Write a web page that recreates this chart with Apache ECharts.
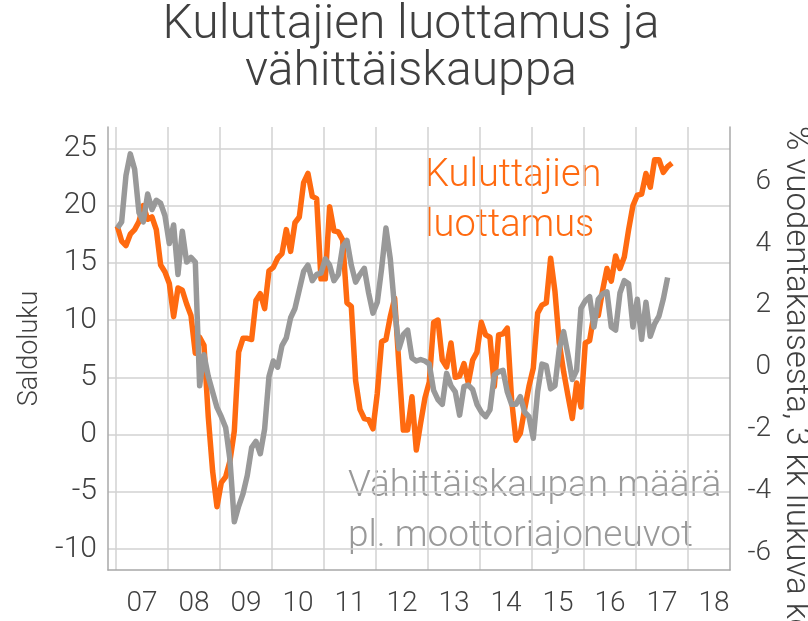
<!DOCTYPE html>
<html lang="fi">
<head>
<meta charset="utf-8">
<title>Kuluttajien luottamus ja vähittäiskauppa</title>
<script src="https://cdn.jsdelivr.net/npm/echarts@6.0.0/dist/echarts.min.js"></script>
<style>
    html, body { margin: 0; padding: 0; background: #fff; }
    #chart { width: 808px; height: 621px; }
</style>
</head>
<body>
<div id="chart"></div>
<script>
// kuukausisarjat, alkaen tammikuusta 2007
var alkuVuosi = 2007;

// Kuluttajien luottamus, saldoluku (vasen akseli)
var luottamus = [
    18.2, 16.9, 16.5, 17.5, 17.9, 18.6, 20.0, 18.8, 19.0, 17.9, 14.8, 14.2,
    13.2, 10.3, 12.8, 12.6, 11.4, 10.4, 7.1, 8.5, 7.8, 1.5, -3.2, -6.3,
    -4.2, -3.7, -2.3, 0.3, 7.2, 8.4, 8.4, 8.3, 11.7, 12.3, 11.0, 14.3,
    14.6, 15.4, 15.8, 17.9, 16.0, 18.5, 19.0, 22.0, 22.8, 20.8, 20.6, 13.6,
    13.6, 19.9, 17.8, 17.7, 17.0, 11.5, 11.2, 4.7, 2.2, 1.4, 1.3, 0.5,
    3.6, 8.1, 8.3, 10.3, 11.9, 6.0, 0.4, 0.4, 3.3, -1.35, 1.0, 3.2,
    4.6, 9.8, 10.0, 6.5, 5.9, 8.0, 5.0, 5.1, 6.2, 4.5, 6.5, 7.2,
    9.8, 8.7, 8.5, 4.2, 8.7, 8.8, 9.3, 3.0, -0.5, 0.1, 2.2, 4.2,
    5.8, 10.6, 11.3, 11.5, 15.4, 12.5, 8.0, 5.5, 3.4, 1.4, 4.5, 2.4,
    8.0, 8.2, 10.5, 10.4, 12.6, 14.5, 13.4, 15.6, 14.5, 15.5, 17.9, 20.0,
    20.9, 21.0, 22.8, 21.6, 24.0, 24.0, 22.9, 23.4, 23.7
];

// Vähittäiskaupan määrä pl. moottoriajoneuvot, % vuodentakaisesta (oikea akseli)
var vahittaiskauppa = [
    4.5, 4.7, 6.2, 6.9, 6.4, 5.0, 4.7, 5.6, 5.1, 5.4, 5.3, 4.9,
    4.0, 4.6, 3.0, 4.4, 3.4, 3.55, 3.4, -0.6, 0.4, -0.3, -0.8, -1.3,
    -1.6, -1.95, -3.0, -5.0, -4.5, -4.1, -3.5, -2.6, -2.4, -2.8, -2.0, -0.3,
    0.2, 0.0, 0.7, 0.95, 1.6, 1.9, 2.5, 3.1, 3.3, 2.8, 3.0, 3.04,
    3.5, 3.3, 2.8, 3.0, 3.9, 4.1, 3.3, 2.75, 3.0, 3.2, 2.4, 1.75,
    2.1, 3.2, 4.5, 3.5, 1.9, 0.6, 1.05, 1.2, 0.3, 0.2, 0.25, 0.2,
    0.1, -0.75, -1.05, -1.2, -0.2, -0.6, -0.8, -1.55, -0.63, -0.58, -0.72, -1.2,
    -1.45, -1.6, -1.38, -0.25, -0.15, -0.1, -0.8, -1.2, -1.2, -0.95, -1.45, -1.6,
    -2.3, -0.8, 0.1, 0.05, -0.7, -0.6, 0.6, 1.15, 0.4, -0.4, -0.1, 1.9,
    2.15, 2.28, 1.3, 2.2, 2.37, 2.44, 1.3, 1.2, 2.4, 2.8, 2.7, 1.3,
    2.2, 0.9, 2.1, 1.0, 1.4, 1.65, 2.2, 2.9
];

// vuosien tunnukset x-akselilla
var vuodet = ['07', '08', '09', '10', '11', '12', '13', '14', '15', '16', '17', '18'];

// akselien rajat
var xMin = 2006.846, xMax = 2018.808;
var saldoMin = -11.83, saldoMax = 26.86;
var prosMin = -6.56, prosMax = 7.77;

var oranssi = '#ff6a10';
var harmaa = '#999999';
var teksti = '#404040';
var fontti = 'Roboto, "Noto Sans", sans-serif';

// kuukausiarvot -> [vuosi, arvo]
function kuukausittain(arr) {
    return arr.map(function (v, i) {
        return [alkuVuosi + (i + 0.3) / 12, v];
    });
}

var chart = echarts.init(document.getElementById('chart'), null, { renderer: 'canvas' });

var option = {
    animation: false,
    backgroundColor: '#fff',
    grid: {
        left: 108, right: 78, top: 127, bottom: 51,
        containLabel: false,
        outerBoundsMode: 'none'
    },
    xAxis: [
        {
            // datan akseli, pystyviivat vuoden vaihteissa
            type: 'value',
            min: xMin, max: xMax,
            minInterval: 1, maxInterval: 1,
            axisLine: { show: true, onZero: false, lineStyle: { color: '#a8a8a8', width: 1.5 } },
            axisTick: { show: false },
            axisLabel: { show: false },
            splitLine: {
                show: true, showMinLine: false, showMaxLine: false,
                lineStyle: { color: '#d2d2d2', width: 1.5 }
            }
        },
        {
            // tunnukset vuoden keskelle
            type: 'value',
            min: xMin - 0.5, max: xMax - 0.5,
            minInterval: 1, maxInterval: 1,
            position: 'bottom',
            axisLine: { show: false, onZero: false },
            axisTick: { show: false },
            splitLine: { show: false },
            axisLabel: {
                showMinLabel: false, showMaxLabel: false,
                margin: 20,
                fontSize: 28, fontWeight: 300, fontFamily: fontti, color: teksti,
                formatter: function (v) {
                    var k = Math.round(v) - alkuVuosi;
                    return vuodet[k] || '';
                }
            }
        }
    ],
    yAxis: [
        {
            type: 'value',
            min: saldoMin, max: saldoMax,
            minInterval: 5, maxInterval: 5,
            name: 'Saldoluku',
            nameLocation: 'middle',
            nameGap: 64,
            nameTextStyle: { fontSize: 27, fontWeight: 300, fontFamily: fontti, color: teksti },
            axisLine: { show: true, onZero: false, lineStyle: { color: '#a8a8a8', width: 1.5 } },
            axisTick: { show: false },
            axisLabel: {
                showMinLabel: false, showMaxLabel: false,
                margin: 11,
                fontSize: 30, fontWeight: 300, fontFamily: fontti, color: teksti
            },
            splitLine: {
                show: true, showMinLine: false, showMaxLine: false,
                lineStyle: { color: '#d2d2d2', width: 1.5 }
            }
        },
        {
            type: 'value',
            position: 'right',
            min: prosMin, max: prosMax,
            minInterval: 2, maxInterval: 2,
            axisLine: { show: true, onZero: false, lineStyle: { color: '#a8a8a8', width: 1.5 } },
            axisTick: { show: false },
            axisLabel: {
                showMinLabel: false, showMaxLabel: false,
                margin: 41, align: 'right',
                fontSize: 28, fontWeight: 300, fontFamily: fontti, color: teksti
            },
            splitLine: { show: false }
        }
    ],
    series: [
        {
            name: 'Kuluttajien luottamus',
            type: 'line',
            xAxisIndex: 0, yAxisIndex: 0,
            data: kuukausittain(luottamus),
            showSymbol: false, symbol: 'none',
            lineStyle: { color: oranssi, width: 5.5, join: 'round' },
            z: 2
        },
        {
            name: 'Vähittäiskaupan määrä',
            type: 'line',
            xAxisIndex: 0, yAxisIndex: 1,
            data: kuukausittain(vahittaiskauppa),
            showSymbol: false, symbol: 'none',
            lineStyle: { color: harmaa, width: 5.5, join: 'round' },
            z: 3
        }
    ],
    graphic: [
        {
            type: 'text', x: 411, y: 26,
            style: { text: 'Kuluttajien luottamus ja', font: '300 48px ' + fontti, fill: teksti, align: 'center', verticalAlign: 'middle' }
        },
        {
            type: 'text', x: 411, y: 73,
            style: { text: 'vähittäiskauppa', font: '300 48px ' + fontti, fill: teksti, align: 'center', verticalAlign: 'middle' }
        },
        {
            type: 'text', x: 425, y: 176,
            style: { text: 'Kuluttajien', font: '300 38px ' + fontti, fill: oranssi, align: 'left', verticalAlign: 'middle' }
        },
        {
            type: 'text', x: 425, y: 226,
            style: { text: 'luottamus', font: '300 38px ' + fontti, fill: oranssi, align: 'left', verticalAlign: 'middle' }
        },
        {
            type: 'text', x: 348, y: 487,
            style: { text: 'Vähittäiskaupan määrä', font: '300 37px ' + fontti, fill: harmaa, align: 'left', verticalAlign: 'middle' }
        },
        {
            type: 'text', x: 348, y: 537,
            style: { text: 'pl. moottoriajoneuvot', font: '300 37px ' + fontti, fill: harmaa, align: 'left', verticalAlign: 'middle' }
        },
        {
            // oikean akselin nimi, luetaan ylhäältä alas
            type: 'text', x: 795, y: 126, rotation: -Math.PI / 2,
            style: { text: '% vuodentakaisesta, 3 kk liukuva keskiarvo', font: '300 33px ' + fontti, fill: teksti, align: 'left', verticalAlign: 'middle' }
        }
    ]
};

chart.setOption(option);
</script>
</body>
</html>
